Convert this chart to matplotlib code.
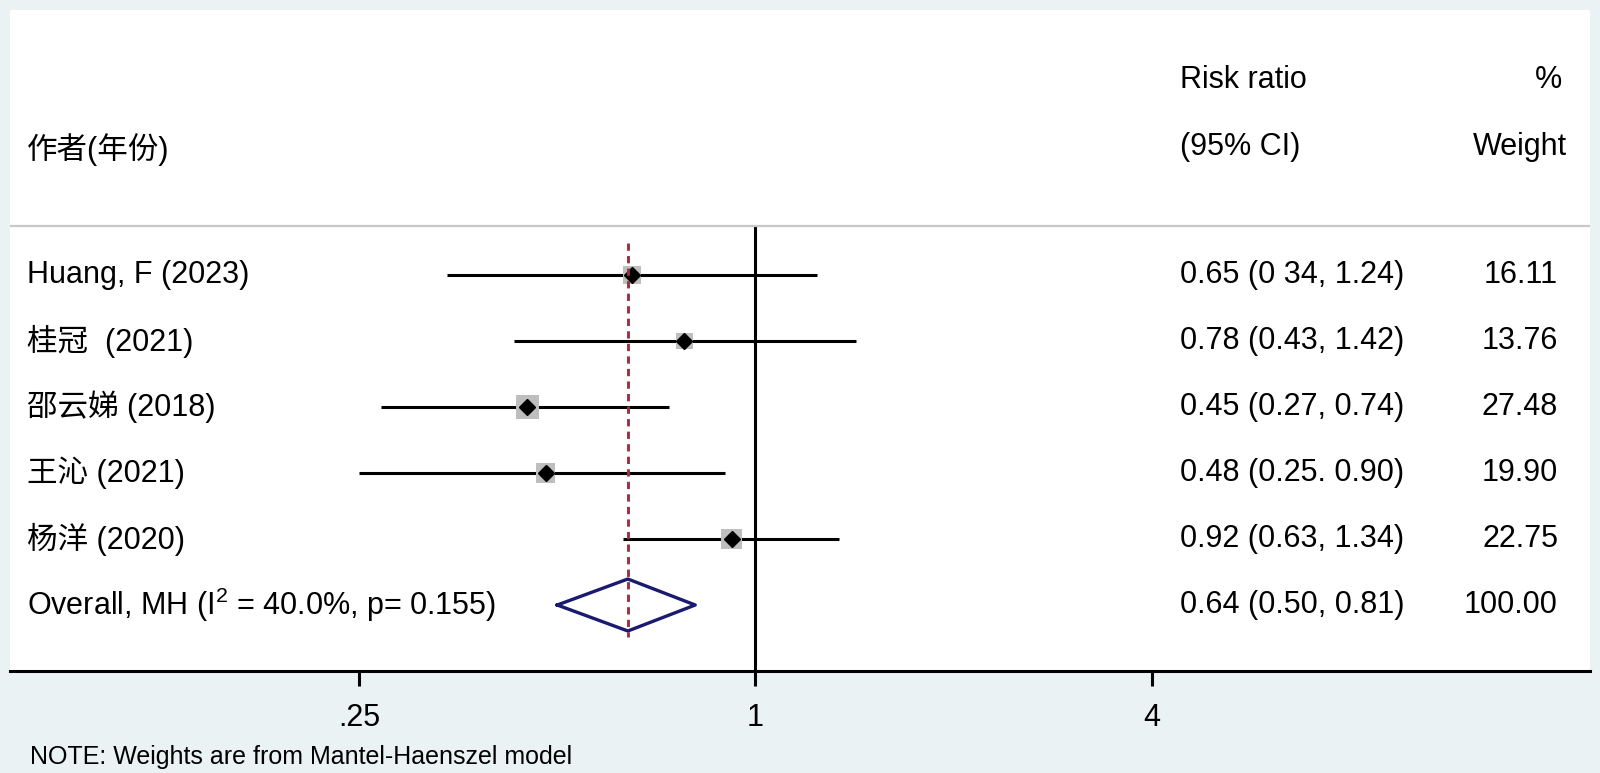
import matplotlib
matplotlib.use("Agg")
import matplotlib.pyplot as plt

# data
studies = ["Huang, F (2023)", "桂冠  (2021)", "邵云娣 (2018)", "王沁 (2021)", "杨洋 (2020)"]
rr = [0.65, 0.78, 0.45, 0.48, 0.92]
ci_lo = [0.34, 0.43, 0.27, 0.25, 0.63]
ci_hi = [1.24, 1.42, 0.74, 0.90, 1.34]
weights = [16.11, 13.76, 27.48, 19.90, 22.75]
ci_text = ["0.65 (0 34, 1.24)", "0.78 (0.43, 1.42)", "0.45 (0.27, 0.74)",
           "0.48 (0.25. 0.90)", "0.92 (0.63, 1.34)"]
weight_text = ["16.11", "13.76", "27.48", "19.90", "22.75"]

overall_label = "Overall, MH (I$^{2}$ = 40.0%, p= 0.155)"
overall_rr = 0.64
overall_lo = 0.50
overall_hi = 0.81
overall_text = "0.64 (0.50, 0.81)"
overall_weight = "100.00"

xticks = [0.25, 1, 4]
xticklabels = [".25", "1", "4"]

plt.rcParams['font.family'] = ['Liberation Sans', 'Noto Sans CJK SC']
plt.rcParams['mathtext.fontset'] = 'custom'
plt.rcParams['mathtext.rm'] = 'Liberation Sans'
plt.rcParams['mathtext.it'] = 'Liberation Sans'

FS = 22
bg = '#EAF2F3'

fig = plt.figure(figsize=(16, 7.73), dpi=100, facecolor=bg)
ax = fig.add_axes([10 / 1600, 102 / 773, 1580 / 1600, 661 / 773])
ax.set_facecolor('white')

ax.set_xscale('log')
ax.set_xlim(0.07379, 18.50)
ax.set_ylim(6.0, -4.015)

rows = list(range(len(studies)))
ov_row = len(studies)

# confidence intervals, weight boxes, point estimates
for i in rows:
    ax.plot([ci_lo[i], ci_hi[i]], [i, i], color='black', lw=2.2, zorder=2,
            solid_capstyle='butt')
ax.scatter(rr, rows, marker='s', s=[w * 10 for w in weights], color='#BEBEBE',
           zorder=3, linewidths=0)
ax.plot(rr, rows, 'D', color='black', ms=8, zorder=4)

# null line and overall line
ax.plot([1, 1], [-0.727, 6.0], color='black', lw=2.2, zorder=1)
ax.plot([overall_rr, overall_rr], [-0.485, 5.485], color='#993344', lw=2.1,
        linestyle=(0, (2.5, 1.8)), zorder=5)

# overall diamond
h = 0.394
ax.plot([overall_lo, overall_rr, overall_hi, overall_rr, overall_lo],
        [ov_row, ov_row - h, ov_row, ov_row + h, ov_row],
        color='#1A1A70', lw=2.4, zorder=4)

# header separator
ax.axhline(-0.742, color='#C8C8C8', lw=1.6, zorder=1)

tr = ax.get_yaxis_transform()
x_lab = 17 / 1580
x_ci = 1170 / 1580
x_w = 1548 / 1580

ax.text(x_lab, -1.9, "作者(年份)", transform=tr, fontsize=FS, va='center', ha='left')
ax.text(x_ci, -2.955, "Risk ratio", transform=tr, fontsize=FS, va='center', ha='left')
ax.text(x_ci, -1.94, "(95% CI)", transform=tr, fontsize=FS, va='center', ha='left')
ax.text(1552 / 1580, -2.955, "%", transform=tr, fontsize=FS, va='center', ha='right')
ax.text(1557 / 1580, -1.94, "Weight", transform=tr, fontsize=FS, va='center', ha='right')

for i in rows:
    ax.text(x_lab, i, studies[i], transform=tr, fontsize=FS, va='center', ha='left')
    ax.text(x_ci, i, ci_text[i], transform=tr, fontsize=FS, va='center', ha='left')
    ax.text(x_w, i, weight_text[i], transform=tr, fontsize=FS, va='center', ha='right')

ax.text(x_lab, ov_row, overall_label, transform=tr, fontsize=FS, va='center', ha='left')
ax.text(x_ci, ov_row, overall_text, transform=tr, fontsize=FS, va='center', ha='left')
ax.text(x_w, ov_row, overall_weight, transform=tr, fontsize=FS, va='center', ha='right')

# axis styling
for side in ['top', 'left', 'right']:
    ax.spines[side].set_visible(False)
ax.spines['bottom'].set_linewidth(2.2)
ax.set_yticks([])
ax.set_xticks(xticks)
ax.set_xticklabels(xticklabels)
ax.minorticks_off()
ax.tick_params(axis='x', length=11, width=2.2, direction='out', labelsize=FS, pad=12)

fig.text(30 / 1600, 16 / 773, "NOTE: Weights are from Mantel-Haenszel model",
         fontsize=18, va='center', ha='left')

fig.savefig("out.png", dpi=100, facecolor=bg)
